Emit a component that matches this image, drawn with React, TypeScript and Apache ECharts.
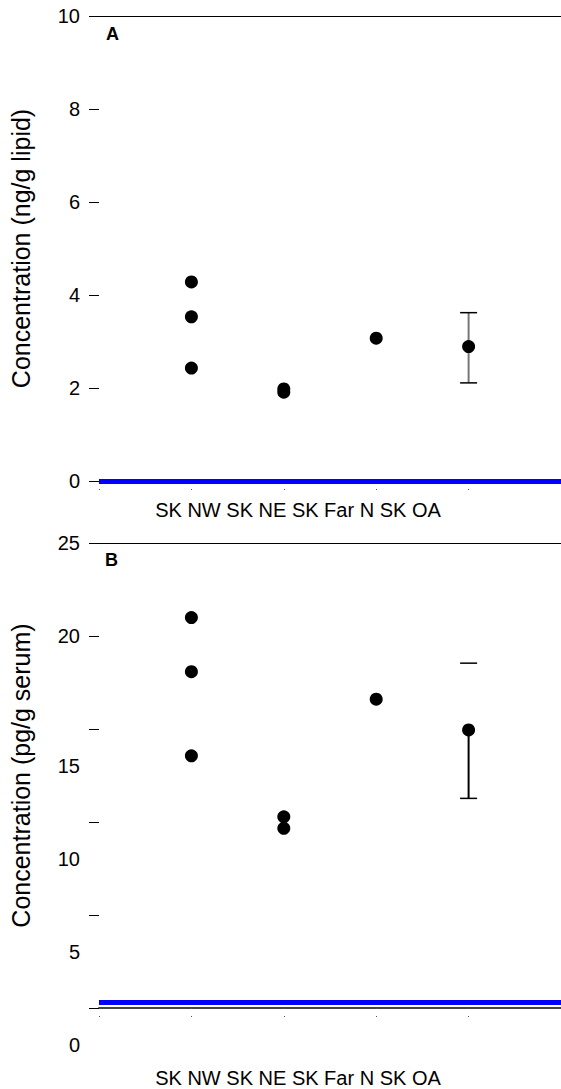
import React, { useEffect, useRef } from "react";
import * as echarts from "echarts";

// Sampling sites along the x axis (positions 1..4)
const categories = ["SK NW", "SK NE", "SK Far N", "SK OA"];

// Panel A: concentration in ng/g lipid
const lipidSkNw = [4.28, 3.53, 2.43];
const lipidSkNe = [1.98, 1.91];
const lipidSkFarN = [3.07];
const lipidSkOaMean = [2.89];
const lipidSkOaRange = [2.11, 3.62];
const lipidReference = 0;
const lipidAxis = { min: 0, max: 10, interval: 2 };

// Panel B: concentration in pg/g serum
const serumSkNw = [20.99, 18.08, 13.56];
const serumSkNe = [10.28, 9.66];
const serumSkFarN = [16.6];
const serumSkOaMean = [14.95];
const serumSkOaRange = [11.27, 18.54];
const serumReference = 0.32;
const serumAxis = { min: 0, max: 25, interval: 5 };

const FONT = "Liberation Sans, Arial, Helvetica, sans-serif";

function toPoints(groups: number[][]) {
  const out: number[][] = [];
  groups.forEach((vals, i) => vals.forEach((v) => out.push([i + 1, v])));
  return out;
}

function errorBarSeries(
  xAxisIndex: number,
  yAxisIndex: number,
  mean: number,
  range: number[],
  fullStem: boolean,
  stemColor: string
) {
  return {
    type: "custom",
    xAxisIndex,
    yAxisIndex,
    z: 3,
    silent: true,
    data: [[categories.length, range[0], range[1], mean]],
    renderItem: (_params: any, api: any) => {
      const x = api.value(0);
      const lo = api.coord([x, api.value(1)]);
      const hi = api.coord([x, api.value(2)]);
      const mid = api.coord([x, api.value(3)]);
      const half = 8.5;
      const stemTop = fullStem ? hi : mid;
      return {
        type: "group",
        children: [
          {
            type: "line",
            shape: { x1: stemTop[0], y1: stemTop[1], x2: lo[0], y2: lo[1] },
            style: { stroke: stemColor, lineWidth: 2 },
          },
          {
            type: "line",
            shape: { x1: hi[0] - half, y1: hi[1], x2: hi[0] + half, y2: hi[1] },
            style: { stroke: "#000", lineWidth: 1.5 },
          },
          {
            type: "line",
            shape: { x1: lo[0] - half, y1: lo[1], x2: lo[0] + half, y2: lo[1] },
            style: { stroke: "#000", lineWidth: 1.5 },
          },
        ],
      };
    },
  };
}

function scatterSeries(
  xAxisIndex: number,
  yAxisIndex: number,
  data: number[][],
  reference: number
) {
  return {
    type: "scatter",
    xAxisIndex,
    yAxisIndex,
    z: 4,
    symbol: "circle",
    symbolSize: 13,
    itemStyle: { color: "#000", opacity: 1 },
    data,
    markLine: {
      silent: true,
      symbol: "none",
      label: { show: false },
      lineStyle: { color: "#0000ff", width: 5, type: "solid", opacity: 1 },
      data: [{ yAxis: reference }],
    },
  };
}

function bottomAxis(gridIndex: number, nameGap: number, lineColor: string, lineWidth: number) {
  return {
    type: "value",
    gridIndex,
    position: "bottom",
    min: 0,
    max: categories.length + 1,
    interval: 1,
    name: categories.join(" "),
    nameLocation: "middle",
    nameGap,
    nameTextStyle: {
      fontFamily: FONT,
      fontSize: 20,
      color: "#000",
      padding: [0, 64, 0, 0],
    },
    axisLine: { show: true, lineStyle: { color: lineColor, width: lineWidth } },
    axisTick: {
      show: true,
      length: 9,
      lineStyle: { color: "#555", width: 1, type: [1, 7] },
    },
    axisLabel: { show: false },
    splitLine: { show: false },
  };
}

function topAxis(gridIndex: number) {
  return {
    type: "value",
    gridIndex,
    position: "top",
    min: 0,
    max: categories.length + 1,
    axisLine: { show: true, lineStyle: { color: "#000", width: 1 } },
    axisTick: { show: false },
    axisLabel: { show: false },
    splitLine: { show: false },
  };
}

function leftAxis(
  gridIndex: number,
  range: { min: number; max: number; interval: number },
  name: string,
  formatter?: (v: number) => string,
  rich?: any
) {
  return {
    type: "value",
    gridIndex,
    min: range.min,
    max: range.max,
    interval: range.interval,
    name,
    nameLocation: "middle",
    nameGap: 66,
    nameTextStyle: { fontFamily: FONT, fontSize: 25, color: "#000" },
    axisLine: { show: false },
    axisTick: { show: true, length: 10, lineStyle: { color: "#000", width: 1 } },
    axisLabel: {
      fontFamily: FONT,
      fontSize: 20,
      color: "#000",
      margin: 19,
      formatter,
      rich,
    },
    splitLine: { show: false },
  };
}

export default function App() {
  const ref = useRef<HTMLDivElement>(null);

  useEffect(() => {
    document.body.style.margin = "0";
    if (!ref.current) return;
    const chart = echarts.init(ref.current, null, { renderer: "svg" });

    const option = {
      animation: false,
      backgroundColor: "#fff",
      grid: [
        { left: 97, right: 0, top: 16, height: 465 },
        { left: 97, right: 0, top: 543, height: 465 },
      ],
      xAxis: [
        bottomAxis(0, 19, "#000", 1),
        topAxis(0),
        bottomAxis(1, 60, "#444", 2),
        topAxis(1),
      ],
      yAxis: [
        leftAxis(0, lipidAxis, "Concentration (ng/g lipid)"),
        leftAxis(
          1,
          serumAxis,
          "Concentration (pg/g serum)",
          (v: number) => (v <= 15 ? `{low|${v}}` : `${v}`),
          { low: { fontFamily: FONT, fontSize: 20, color: "#000", padding: [74, 0, 0, 0] } }
        ),
      ],
      graphic: [
        {
          type: "text",
          left: 106,
          top: 25,
          style: { text: "A", fontFamily: FONT, fontSize: 18, fontWeight: "bold", fill: "#000" },
        },
        {
          type: "text",
          left: 105,
          top: 551,
          style: { text: "B", fontFamily: FONT, fontSize: 18, fontWeight: "bold", fill: "#000" },
        },
      ],
      series: [
        errorBarSeries(0, 0, lipidSkOaMean[0], lipidSkOaRange, true, "#777"),
        scatterSeries(
          0,
          0,
          toPoints([lipidSkNw, lipidSkNe, lipidSkFarN, lipidSkOaMean]),
          lipidReference
        ),
        errorBarSeries(2, 1, serumSkOaMean[0], serumSkOaRange, false, "#000"),
        scatterSeries(
          2,
          1,
          toPoints([serumSkNw, serumSkNe, serumSkFarN, serumSkOaMean]),
          serumReference
        ),
      ],
    };

    chart.setOption(option as any);
    return () => chart.dispose();
  }, []);

  return (
    <div
      ref={ref}
      style={{ position: "absolute", left: 0, top: 0, width: 561, height: 1089 }}
    />
  );
}
